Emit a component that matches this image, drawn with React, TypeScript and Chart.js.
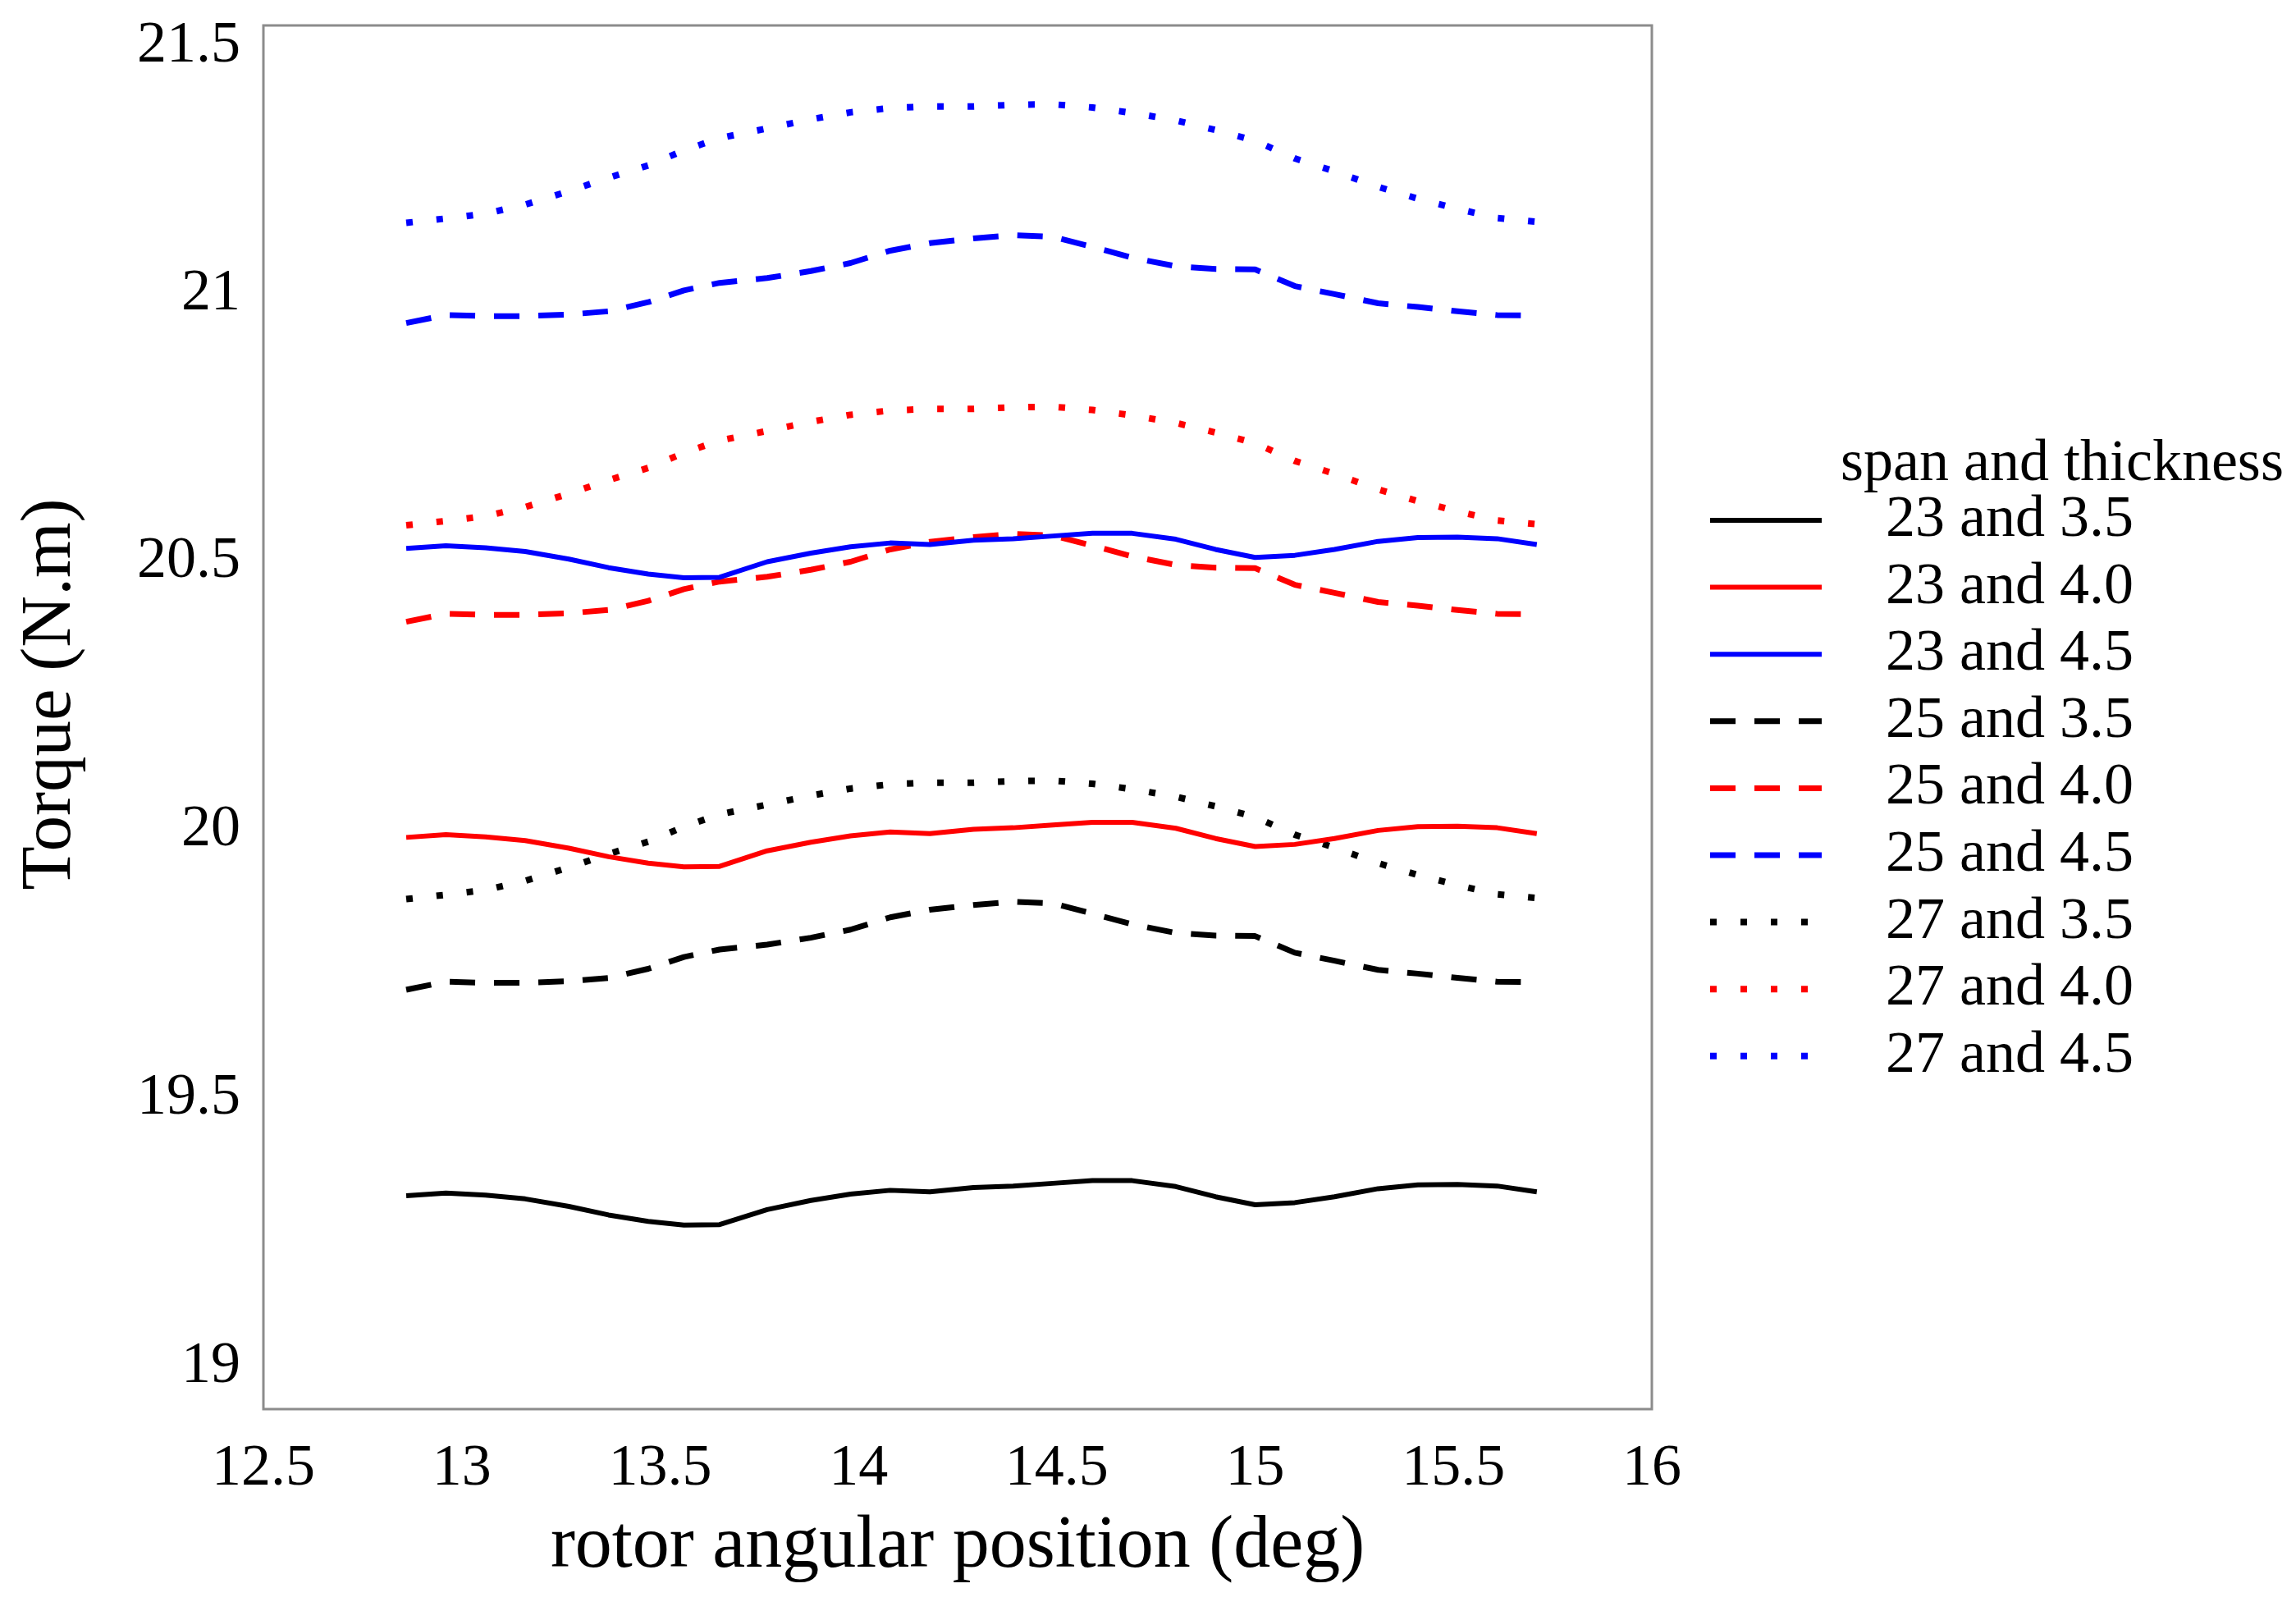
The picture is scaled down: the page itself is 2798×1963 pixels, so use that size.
import React, { useEffect, useRef } from 'react';
import { Chart, registerables } from 'chart.js';

Chart.register(...registerables);

// rotor angular position (deg)
const angles = [12.86, 12.96, 13.06, 13.16, 13.27, 13.37, 13.47, 13.56, 13.65, 13.77, 13.88, 13.98, 14.08, 14.18, 14.29, 14.39, 14.49, 14.59, 14.69, 14.80, 14.90, 15.00, 15.10, 15.20, 15.31, 15.41, 15.51, 15.61, 15.71];

const xTicks = [12.5, 13, 13.5, 14, 14.5, 15, 15.5, 16];
const yTicks = [19, 19.5, 20, 20.5, 21, 21.5];

const seriesLabels = ['23 and 3.5', '23 and 4.0', '23 and 4.5', '25 and 3.5', '25 and 4.0', '25 and 4.5', '27 and 3.5', '27 and 4.0', '27 and 4.5'];
const legendTitle = 'span and thickness';
const xTitle = 'rotor angular position (deg)';
const yTitle = 'Torque (N.m)';

// Torque (N.m)
const t23_35 = [19.318, 19.323, 19.319, 19.312, 19.298, 19.282, 19.270, 19.263, 19.264, 19.292, 19.309, 19.321, 19.328, 19.325, 19.333, 19.336, 19.341, 19.346, 19.346, 19.335, 19.316, 19.301, 19.305, 19.316, 19.331, 19.338, 19.339, 19.336, 19.325];
const t23_40 = [19.986, 19.991, 19.987, 19.980, 19.966, 19.950, 19.938, 19.931, 19.932, 19.961, 19.977, 19.989, 19.996, 19.993, 20.001, 20.004, 20.009, 20.014, 20.014, 20.003, 19.984, 19.969, 19.973, 19.984, 19.999, 20.006, 20.007, 20.004, 19.993];
const t23_45 = [20.525, 20.530, 20.526, 20.519, 20.505, 20.489, 20.477, 20.470, 20.471, 20.500, 20.516, 20.528, 20.535, 20.532, 20.540, 20.543, 20.548, 20.553, 20.553, 20.542, 20.523, 20.508, 20.512, 20.523, 20.538, 20.545, 20.546, 20.543, 20.532];
const t25_35 = [19.702, 19.717, 19.715, 19.715, 19.718, 19.724, 19.741, 19.763, 19.777, 19.786, 19.799, 19.814, 19.837, 19.851, 19.860, 19.866, 19.863, 19.844, 19.824, 19.808, 19.803, 19.802, 19.771, 19.756, 19.739, 19.732, 19.724, 19.717, 19.716];
const t25_40 = [20.388, 20.403, 20.401, 20.401, 20.404, 20.410, 20.427, 20.449, 20.463, 20.472, 20.485, 20.500, 20.523, 20.537, 20.546, 20.552, 20.549, 20.530, 20.510, 20.494, 20.489, 20.488, 20.457, 20.442, 20.425, 20.418, 20.410, 20.403, 20.402];
const t25_45 = [20.945, 20.960, 20.958, 20.958, 20.961, 20.967, 20.984, 21.006, 21.020, 21.029, 21.042, 21.057, 21.080, 21.094, 21.103, 21.109, 21.106, 21.087, 21.067, 21.051, 21.046, 21.045, 21.014, 20.999, 20.982, 20.975, 20.967, 20.960, 20.959];
const t27_35 = [19.871, 19.879, 19.888, 19.905, 19.930, 19.955, 19.978, 20.006, 20.029, 20.047, 20.064, 20.077, 20.085, 20.088, 20.088, 20.091, 20.092, 20.086, 20.076, 20.062, 20.044, 20.024, 19.991, 19.967, 19.938, 19.916, 19.897, 19.880, 19.873];
const t27_40 = [20.568, 20.576, 20.585, 20.602, 20.627, 20.652, 20.675, 20.703, 20.726, 20.744, 20.761, 20.774, 20.782, 20.785, 20.785, 20.788, 20.789, 20.783, 20.773, 20.759, 20.741, 20.721, 20.688, 20.664, 20.635, 20.613, 20.594, 20.577, 20.570];
const t27_45 = [21.132, 21.140, 21.149, 21.166, 21.191, 21.216, 21.239, 21.267, 21.290, 21.308, 21.325, 21.338, 21.346, 21.349, 21.349, 21.352, 21.353, 21.347, 21.337, 21.323, 21.305, 21.285, 21.252, 21.228, 21.199, 21.177, 21.158, 21.141, 21.134];

const FONT = "'Liberation Serif', 'Times New Roman', serif";
const W = 2798;
const H = 1963;

export default function App() {
  const ref = useRef<HTMLCanvasElement>(null);

  useEffect(() => {
    const canvas = ref.current;
    if (!canvas) return;
    const series = [t23_35, t23_40, t23_45, t25_35, t25_40, t25_45, t27_35, t27_40, t27_45];
    const colors = ['#000000', '#ff0000', '#0000ff'];
    const solid: number[] = [];
    const dashed = [31, 23];
    const dotted = [8, 29];
    const datasets = series.map((vals, i) => {
      const family = Math.floor(i / 3);
      const dash = family === 0 ? solid : family === 1 ? dashed : dotted;
      const width = family === 0 ? 6 : family === 1 ? 7 : 8;
      return {
        label: seriesLabels[i],
        data: vals.map((v, j) => ({ x: angles[j], y: v })),
        borderColor: colors[i % 3],
        backgroundColor: colors[i % 3],
        borderWidth: width,
        borderDash: dash,
        borderCapStyle: 'butt' as const,
        borderJoinStyle: 'round' as const,
        pointRadius: 0,
        pointHoverRadius: 0,
        fill: false,
        tension: 0,
      };
    });

    const framePlugin = {
      id: 'frame',
      beforeDatasetsDraw(chart: any) {
        const { ctx, chartArea } = chart;
        ctx.save();
        ctx.strokeStyle = '#8c8c8c';
        ctx.lineWidth = 3;
        ctx.strokeRect(chartArea.left, chartArea.top, chartArea.right - chartArea.left, chartArea.bottom - chartArea.top);
        ctx.restore();
      },
    };

    const textPlugin = {
      id: 'extraText',
      afterDraw(chart: any) {
        const ys = chart.scales.y;
        const ctx = chart.ctx;
        const top = yTicks[yTicks.length - 1];
        ctx.save();
        ctx.fillStyle = '#000';
        ctx.font = `72px ${FONT}`;
        ctx.textAlign = 'right';
        ctx.textBaseline = 'middle';
        ctx.fillText(String(top), ys.right - 28, ys.getPixelForValue(top) + 25);
        // y axis title, placed slightly above the axis centre as in the reference
        ctx.font = `87px ${FONT}`;
        ctx.textAlign = 'center';
        ctx.translate(62, (chart.chartArea.top + chart.chartArea.bottom) / 2 - 28);
        ctx.rotate(-Math.PI / 2);
        ctx.fillText(yTitle, 0, 0);
        ctx.restore();
      },
    };

    const legendPlugin = {
      id: 'customLegend',
      afterDraw(chart: any) {
        const ctx = chart.ctx;
        const x0 = chart.chartArea.right + 71;
        const lineLen = 136;
        const textX = x0 + 214;
        const titleX = x0 + 159;
        const titleY = 566;
        const firstY = 634;
        const step = 81.6;
        ctx.save();
        ctx.fillStyle = '#000';
        ctx.textBaseline = 'middle';
        ctx.textAlign = 'left';
        ctx.font = `72px ${FONT}`;
        ctx.fillText(legendTitle, titleX, titleY);
        chart.data.datasets.forEach((ds: any, i: number) => {
          const y = firstY + i * step;
          ctx.save();
          ctx.strokeStyle = ds.borderColor;
          ctx.lineWidth = ds.borderWidth;
          ctx.setLineDash(ds.borderDash || []);
          ctx.lineCap = 'butt';
          ctx.beginPath();
          ctx.moveTo(x0, y);
          ctx.lineTo(x0 + lineLen, y);
          ctx.stroke();
          ctx.restore();
          ctx.fillText(ds.label, textX, y);
        });
        ctx.restore();
      },
    };

    const chart = new Chart(canvas, {
      type: 'line',
      data: { datasets },
      options: {
        animation: false,
        responsive: false,
        devicePixelRatio: 1,
        layout: { padding: { left: 0, top: 31, right: 785, bottom: 0 } },
        plugins: { legend: { display: false }, tooltip: { enabled: false } },
        scales: {
          x: {
            type: 'linear',
            min: 12.5,
            max: 16,
            afterBuildTicks: (s: any) => {
              s.ticks = xTicks.map((v) => ({ value: v }));
            },
            afterFit: (s: any) => {
              s.height = 246;
              s.paddingLeft = 0;
              s.paddingRight = 0;
            },
            grid: { display: false, drawTicks: false },
            border: { display: false },
            ticks: {
              font: { family: FONT, size: 72 },
              color: '#000',
              padding: 30,
              autoSkip: false,
              maxRotation: 0,
              minRotation: 0,
              callback: (v: any) => String(v),
            },
            title: {
              display: true,
              text: xTitle,
              color: '#000',
              font: { family: FONT, size: 90 },
              padding: { top: 0, bottom: 24 },
            },
          },
          y: {
            type: 'linear',
            min: 18.92,
            max: 21.5,
            afterBuildTicks: (s: any) => {
              s.ticks = yTicks.map((v) => ({ value: v }));
            },
            afterFit: (s: any) => {
              s.width = 321;
              s.paddingTop = 0;
              s.paddingBottom = 0;
            },
            grid: { display: false, drawTicks: false },
            border: { display: false },
            ticks: {
              font: { family: FONT, size: 72 },
              color: '#000',
              padding: 28,
              autoSkip: false,
              callback: (v: any) => (v === yTicks[yTicks.length - 1] ? '' : String(v)),
            },
            title: { display: false },
          },
        },
      },
      plugins: [framePlugin, textPlugin, legendPlugin],
    });

    return () => {
      chart.destroy();
    };
  }, []);

  return (
    <div style={{ position: 'absolute', left: 0, top: 0, width: W, height: H, background: '#fff' }}>
      <canvas ref={ref} width={W} height={H} style={{ width: W, height: H, display: 'block' }} />
    </div>
  );
}
